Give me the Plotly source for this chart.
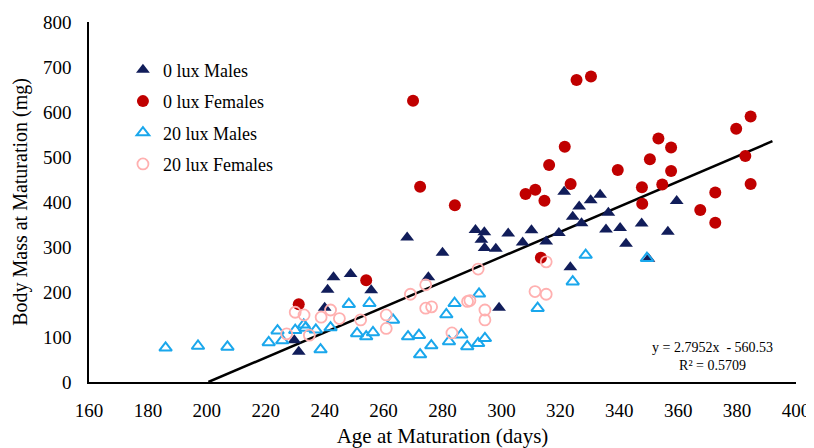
import plotly.graph_objects as go

# 0 lux Males
m0_x = [229.7, 231.2, 240, 241, 243, 248.8, 255.8, 268, 275.2, 280, 291.2, 294.2, 293.2, 294.3, 298.1,
        299.2, 302.3, 307.2, 310.2, 315.2, 319.5, 321.3, 323.4, 324.2, 326.4, 327.2, 330.3, 333.5,
        335.5, 336.3, 340.3, 342.3, 347.6, 349.9, 356.5, 359.5]
m0_y = [93, 67, 165, 205, 233, 240, 204, 321, 233, 287, 338, 333, 316, 298, 296,
        165, 330, 310, 337, 312, 331, 423, 255, 367, 390, 353, 404, 416,
        339, 376, 342, 307, 352, 274, 334, 402]

# 0 lux Females
f0_x = [231.2, 254.1, 270, 272.4, 284.2, 308.2, 311.5, 313.4, 314.6, 316.2, 321.5, 323.5, 325.5, 330.4,
        339.5, 347.7, 347.8, 350.4, 353.3, 354.6, 357.6, 357.6, 367.5, 372.6, 372.6, 379.7, 382.8,
        384.6, 384.6]
f0_y = [173, 226, 625, 434, 393, 418, 427, 276, 403, 482, 523, 440, 671, 679,
        471, 433, 396, 495, 541, 439, 521, 469, 382, 421, 354, 563, 502,
        590, 440]

# 20 lux Males
m20_x = [186, 197, 207, 221, 224, 225.6, 230, 232.9, 233.5, 237, 238.6, 242, 248.2, 251, 254.1, 255.2,
         256.4, 263.2, 268.3, 272, 272.4, 276.2, 281.3, 282.2, 284.1, 286.4, 288.4, 292.1, 292.4,
         294.4, 312.3, 324.2, 328.6, 349.4]
m20_y = [76, 80, 78, 88, 114, 92, 115, 127, 120, 116, 72, 121, 173, 108, 101, 175,
         110, 138, 101, 104, 61, 81, 150, 90, 175, 105, 79, 86, 196,
         97, 164, 223, 282, 275]

# 20 lux Females
f20_x = [227.1, 230, 233, 234.8, 238.8, 242, 245, 252.2, 260.9, 260.9, 269.1, 274.3, 274.3, 276.3,
         283.2, 288.5, 289.3, 292.1, 294.4, 294.4, 311.4, 315.2, 315.2]
f20_y = [107, 155, 149, 104, 144, 160, 141, 138, 149, 119, 195, 216, 164, 167,
         109, 179, 181, 251, 160, 138, 201, 267, 195]

# Trendline
slope = 2.7952
intercept = -560.53
trend_x = [200.53, 392]
trend_y = [slope * x + intercept for x in trend_x]

x_ticks = list(range(160, 401, 20))
y_ticks = list(range(0, 801, 100))

FONT = "Liberation Serif"

fig = go.Figure()
fig.add_trace(go.Scatter(x=trend_x, y=trend_y, mode="lines", line=dict(color="black", width=2.5),
                         showlegend=False, hoverinfo="skip"))
fig.add_trace(go.Scatter(x=m0_x, y=m0_y, mode="markers", name="0 lux Males", legendgroup="a",
                         marker=dict(symbol="triangle-up", size=12, color="#111d5a")))
fig.add_trace(go.Scatter(x=f0_x, y=f0_y, mode="markers", name="0 lux Females", legendgroup="b",
                         marker=dict(symbol="circle", size=12, color="#c00000")))
fig.add_trace(go.Scatter(x=m20_x, y=m20_y, mode="markers", name="20 lux Males", legendgroup="c",
                         marker=dict(symbol="triangle-up-open", size=11, color="#1aa7ec",
                                     line=dict(width=2))))
fig.add_trace(go.Scatter(x=f20_x, y=f20_y, mode="markers", name="20 lux Females", legendgroup="d",
                         marker=dict(symbol="circle-open", size=11, color="#ffb0b0",
                                     line=dict(width=1.8))))

fig.add_annotation(x=0.882, y=0.072, xref="paper", yref="paper", xanchor="center", yanchor="middle",
                   text="y = 2.7952x  - 560.53<br>R² = 0.5709", showarrow=False,
                   font=dict(family=FONT, size=14, color="black"), align="center")

# page body has an 8px default margin, so the figure is sized to fit the window
fig.update_layout(
    width=806, height=440,
    margin=dict(l=81, r=18, t=14, b=66, autoexpand=False),
    plot_bgcolor="white", paper_bgcolor="white",
    font=dict(family=FONT, size=18, color="black"),
    showlegend=True,
    legend=dict(x=0.048, y=0.918, xanchor="left", yanchor="top", tracegroupgap=5,
                font=dict(family=FONT, size=18), bgcolor="rgba(0,0,0,0)"),
    xaxis=dict(range=[160, 400], tickvals=x_ticks, showgrid=False, zeroline=False,
               showline=True, linecolor="black", linewidth=1.5, ticks="", automargin=False,
               ticklabelstandoff=10,
               title=dict(text="Age at Maturation (days)", font=dict(family=FONT, size=21), standoff=19),
               tickfont=dict(family=FONT, size=19)),
    yaxis=dict(range=[0, 800], tickvals=y_ticks, showgrid=False, zeroline=False,
               showline=True, linecolor="black", linewidth=1.5, ticks="", automargin=False,
               ticklabelstandoff=12,
               title=dict(text="Body Mass at Maturation (mg)", font=dict(family=FONT, size=20), standoff=10),
               tickfont=dict(family=FONT, size=19)),
)

fig.write_html("out.html")
